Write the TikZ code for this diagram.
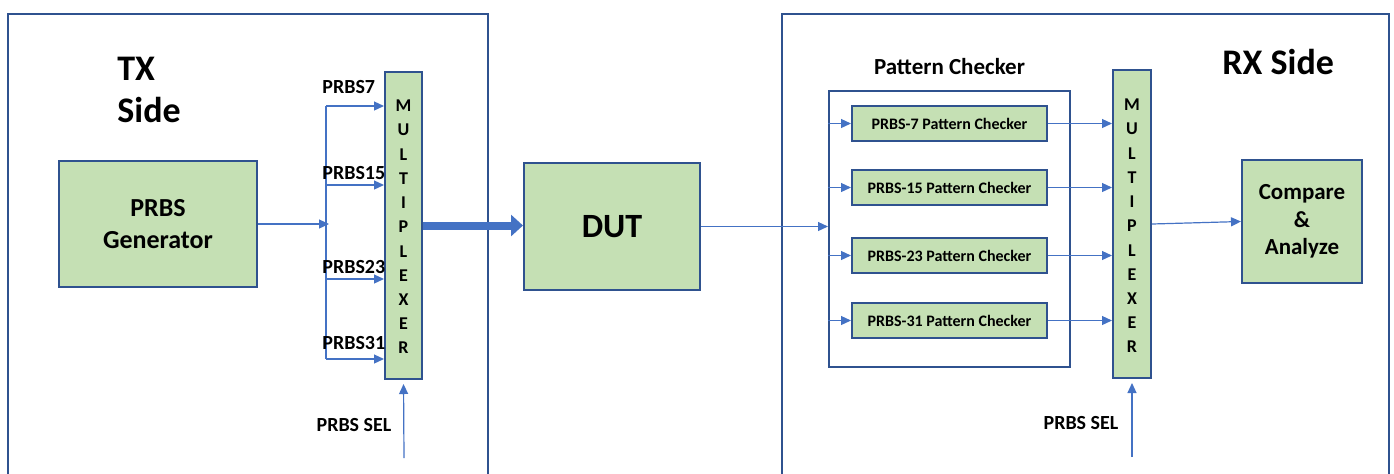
\documentclass[tikz,border=0pt]{standalone}
\usepackage{fontspec}
\setmainfont{Carlito}
\usetikzlibrary{arrows.meta,positioning}
\definecolor{boxgreen}{HTML}{C5E0B4}
\definecolor{edgeblue}{HTML}{2F528F}
\definecolor{wireblue}{HTML}{4472C4}

\begin{document}
\begin{tikzpicture}[x=0.5pt,y=-0.5pt,>={Triangle[length=5pt,width=4.5pt]},
    green box/.style={draw=edgeblue,line width=1pt,fill=boxgreen,inner sep=0pt},
    side box/.style={draw=edgeblue,line width=1pt,inner sep=0pt},
    wire/.style={->,draw=wireblue,line width=0.6pt},
    mux letter/.style={inner sep=0pt,font=\bfseries\fontsize{9}{9}\selectfont},
    sig label/.style={inner sep=0pt,font=\bfseries\fontsize{10}{12}\selectfont},
    checker/.style={green box,minimum width=97.5pt,minimum height=17.5pt,font=\bfseries\fontsize{8}{10}\selectfont},
    title/.style={inner sep=0pt,font=\bfseries\fontsize{18}{21}\selectfont}]

    \useasboundingbox (0,0) rectangle (1394,473);
    \clip (0,0) rectangle (1394,473);

    % the two sides
    \node[side box,minimum width=240pt,minimum height=233pt] (txside) at (248,247) {};
    \node[side box,minimum width=303.5pt,minimum height=233pt] (rxside) at (1085.5,247) {};
    \node[title,anchor=north west,align=left] (txtitle) at (117,57) {TX\\Side};
    \node[title,anchor=west] (rxtitle) at (1222,62) {RX Side};

    % TX side
    \node[green box,minimum width=99pt,minimum height=63pt,align=center,
          font=\bfseries\fontsize{13}{16}\selectfont] (gen) at (158,224) {PRBS\\Generator};
    \node[green box,minimum width=18.5pt,minimum height=153.5pt] (txmux) at (403.5,225.5) {};
    \foreach \l [count=\i] in {M,U,L,T,I,P,L,E,X,E,R}
        \node[mux letter] (txl\i) at (403.5,{106+(\i-1)*24.2}) {\l};

    \coordinate (bustop) at (326,106);
    \coordinate (busbot) at (326,359);
    \coordinate (busin) at (329,224);
    \draw[wireblue,line width=0.6pt] (bustop) -- (busbot);
    \draw[wire] (gen.east) -- (busin);
    \foreach \n/\y/\ly in {7/106/87,15/185/173,23/279/267,31/359/343} {
        \coordinate (tap\n) at (326,\y);
        \draw[wire] (tap\n) -- (tap\n -| txmux.west);
        \node[sig label,anchor=west] (lbl\n) at (322,\ly) {PRBS\n};
    }

    \node[sig label] (txsel) at (354,425) {PRBS SEL};
    \coordinate (txselfoot) at (404,458);
    \draw[wire,shorten >=2pt] (txselfoot) -- (txmux.south);

    % DUT
    \node[green box,minimum width=88pt,minimum height=63.5pt,
          font=\bfseries\fontsize{17}{20}\selectfont] (dut) at (612,226.5) {DUT};
    \draw[wireblue,line width=4pt,-{Triangle[length=6pt,width=10.5pt]}]
        (txmux.east) -- (txmux.east -| dut.west);

    % RX side
    \node[side box,minimum width=120.5pt,minimum height=138pt] (pcbox) at (949.5,229) {};
    \node[inner sep=0pt,font=\bfseries\fontsize{11.5}{14}\selectfont] (pclabel) at (949.5,67) {Pattern Checker};
    \draw[wire] (dut.east) -- (dut.east -| pcbox.west);

    \node[green box,minimum width=19pt,minimum height=154pt] (rxmux) at (1132,224) {};
    \foreach \l [count=\i] in {M,U,L,T,I,P,L,E,X,E,R}
        \node[mux letter] (rxl\i) at (1132,{105+(\i-1)*24.2}) {\l};

    \foreach \n/\y in {7/123.5,15/187.5,23/255.5,31/320.5} {
        \node[checker] (chk\n) at (949.5,\y) {PRBS-\n{} Pattern Checker};
        \draw[wire] (chk\n.west -| pcbox.west) -- (chk\n.west);
        \draw[wire] (chk\n.east) -- (chk\n.east -| rxmux.west);
    }

    \node[green box,minimum width=60pt,minimum height=61.5pt,align=center,
          font=\bfseries\fontsize{11.5}{13.75}\selectfont] (cmp) at (1302,221.5) {Compare\\\&\\Analyze};
    \draw[wire] (rxmux.east) -- (cmp.west);

    \node[sig label] (rxsel) at (1081,423) {PRBS SEL};
    \coordinate (rxselfoot) at (1132,457);
    \draw[wire,shorten >=2pt] (rxselfoot) -- (rxmux.south);

\end{tikzpicture}
\end{document}
